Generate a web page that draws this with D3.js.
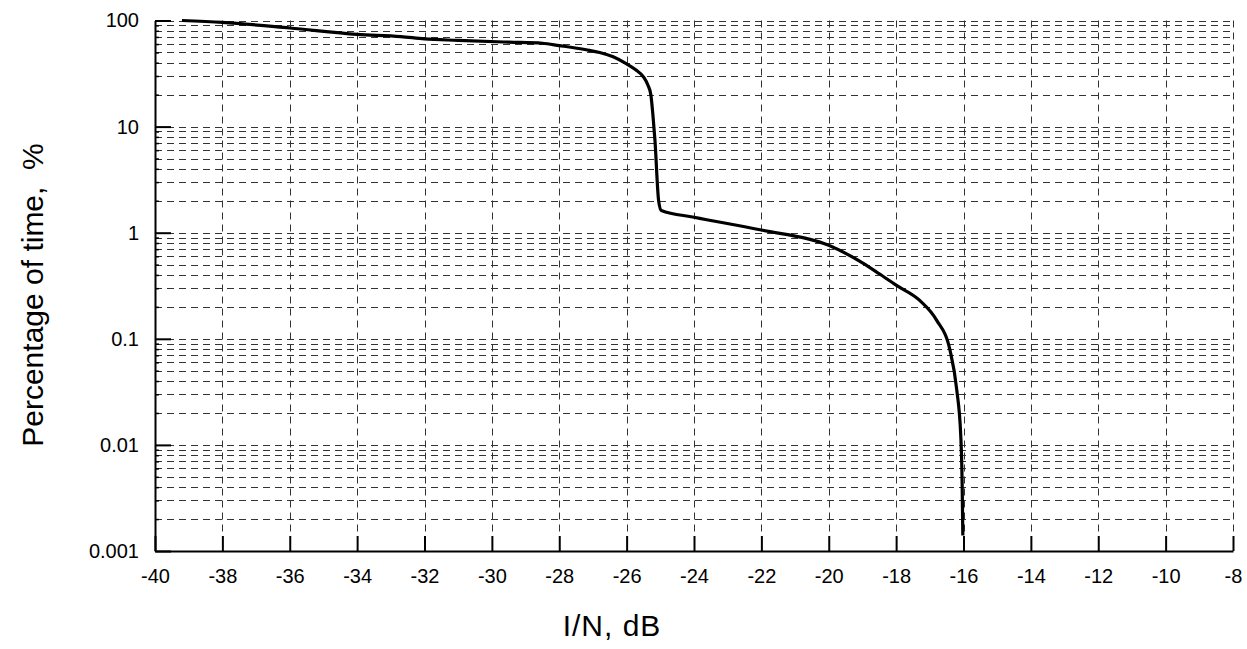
<!DOCTYPE html>
<html lang="en">
<head>
<meta charset="UTF-8">
<title>Percentage of time vs I/N</title>
<script src="https://d3js.org/d3.v7.min.js"></script>
<style>
  body { margin: 0; background: white; }
  svg { display: block; font-family: "Liberation Sans", Arial, sans-serif; }
  .tick text { font-size: 20px; fill: #000; }
</style>
</head>
<body>
<svg id="chart"></svg>
<script>
// I/N values (dB) and percentage of time (%)
const inDb = [-39.2, -38, -36, -34, -32.7, -32, -31, -29.5, -28.5, -28, -27.2, -26.8, -26.4, -26, -25.73, -25.49, -25.37,
              -25.28, -25.22, -25.16, -25.05, -24.97,
              -24, -22, -20, -19, -18.5, -18, -17.3, -16.8, -16.4, -16.2, -16.08, -16.04, -16.02];
const pct = [100, 96, 85, 74, 70.6, 67, 65, 62.5, 61, 58, 53, 50, 45.5, 39, 34.3, 29.1, 24.7,
             19.9, 12.9, 7.5, 2.0, 1.62,
             1.4, 1.06, 0.76, 0.52, 0.41, 0.32, 0.23, 0.15, 0.078, 0.033, 0.012, 0.0043, 0.0014];

const xTicks = d3.range(-40, -7, 2);
const yMajor = [0.001, 0.01, 0.1, 1, 10, 100];
const yLabels = ["0.001", "0.01", "0.1", "1", "10", "100"];

const w = 1247, h = 649;
const plotLeft = 155, plotRight = 1233, plotTop = 20.5, plotBottom = 551;

const svg = d3.select("#chart").attr("width", w).attr("height", h);

const x = d3.scaleLinear().domain([-40, -8]).range([plotLeft, plotRight]);
const y = d3.scaleLog().domain([0.001, 100]).range([plotBottom, plotTop]);

// minor values 2..9 in every decade
const yMinor = [];
for (let k = -3; k <= 1; k++) {
  for (let m = 2; m <= 9; m++) yMinor.push(m * Math.pow(10, k));
}

const grid = svg.append("g")
  .attr("stroke", "#333")
  .attr("stroke-width", 1)
  .attr("stroke-dasharray", "7,5");

grid.selectAll("line.h")
  .data(yMinor.concat(yMajor.slice(1)))
  .enter().append("line")
  .attr("class", "h")
  .attr("x1", plotLeft).attr("x2", plotRight)
  .attr("y1", d => Math.round(y(d)) + 0.5)
  .attr("y2", d => Math.round(y(d)) + 0.5);

grid.selectAll("line.v")
  .data(xTicks.slice(1))
  .enter().append("line")
  .attr("class", "v")
  .attr("y1", plotTop).attr("y2", plotBottom)
  .attr("x1", d => Math.round(x(d)) + 0.5)
  .attr("x2", d => Math.round(x(d)) + 0.5);

// axes
const xAxis = d3.axisBottom(x)
  .tickValues(xTicks)
  .tickFormat(d => String(d))
  .tickSizeInner(-15)
  .tickSizeOuter(0)
  .tickPadding(18);

const gx = svg.append("g")
  .attr("transform", "translate(0," + plotBottom + ")")
  .call(xAxis);
gx.select(".domain").attr("stroke", "#000").attr("stroke-width", 2);
gx.selectAll(".tick line").attr("stroke", "#000").attr("stroke-width", 2);

const yAxisMinor = d3.axisLeft(y)
  .tickValues(yMinor)
  .tickFormat("")
  .tickSizeInner(-4)
  .tickSizeOuter(0);

svg.append("g")
  .attr("transform", "translate(" + plotLeft + ",0)")
  .call(yAxisMinor)
  .call(g => g.select(".domain").remove())
  .selectAll(".tick line").attr("stroke", "#000").attr("stroke-width", 1.5);

const yAxis = d3.axisLeft(y)
  .tickValues(yMajor)
  .tickFormat((d, i) => yLabels[i])
  .tickSizeInner(-16)
  .tickSizeOuter(0)
  .tickPadding(16);

const gy = svg.append("g")
  .attr("transform", "translate(" + plotLeft + ",0)")
  .call(yAxis);
gy.select(".domain").attr("stroke", "#000").attr("stroke-width", 2);
gy.selectAll(".tick line").attr("stroke", "#000").attr("stroke-width", 2);

// curve
const line = d3.line()
  .x((d, i) => x(inDb[i]))
  .y(d => y(d))
  .curve(d3.curveMonotoneX);

svg.append("path")
  .datum(pct)
  .attr("fill", "none")
  .attr("stroke", "#000")
  .attr("stroke-width", 3.2)
  .attr("stroke-linejoin", "round")
  .attr("d", line);

// axis titles
svg.append("text")
  .attr("x", 612)
  .attr("y", 636)
  .attr("text-anchor", "middle")
  .style("font-size", "30px")
  .style("letter-spacing", "1px")
  .text("I/N, dB");

svg.append("text")
  .attr("transform", "translate(43," + 295 + ") rotate(-90)")
  .attr("text-anchor", "middle")
  .style("font-size", "30px")
  .style("white-space", "pre")
  .text("Percentage of time,  %");
</script>
</body>
</html>
